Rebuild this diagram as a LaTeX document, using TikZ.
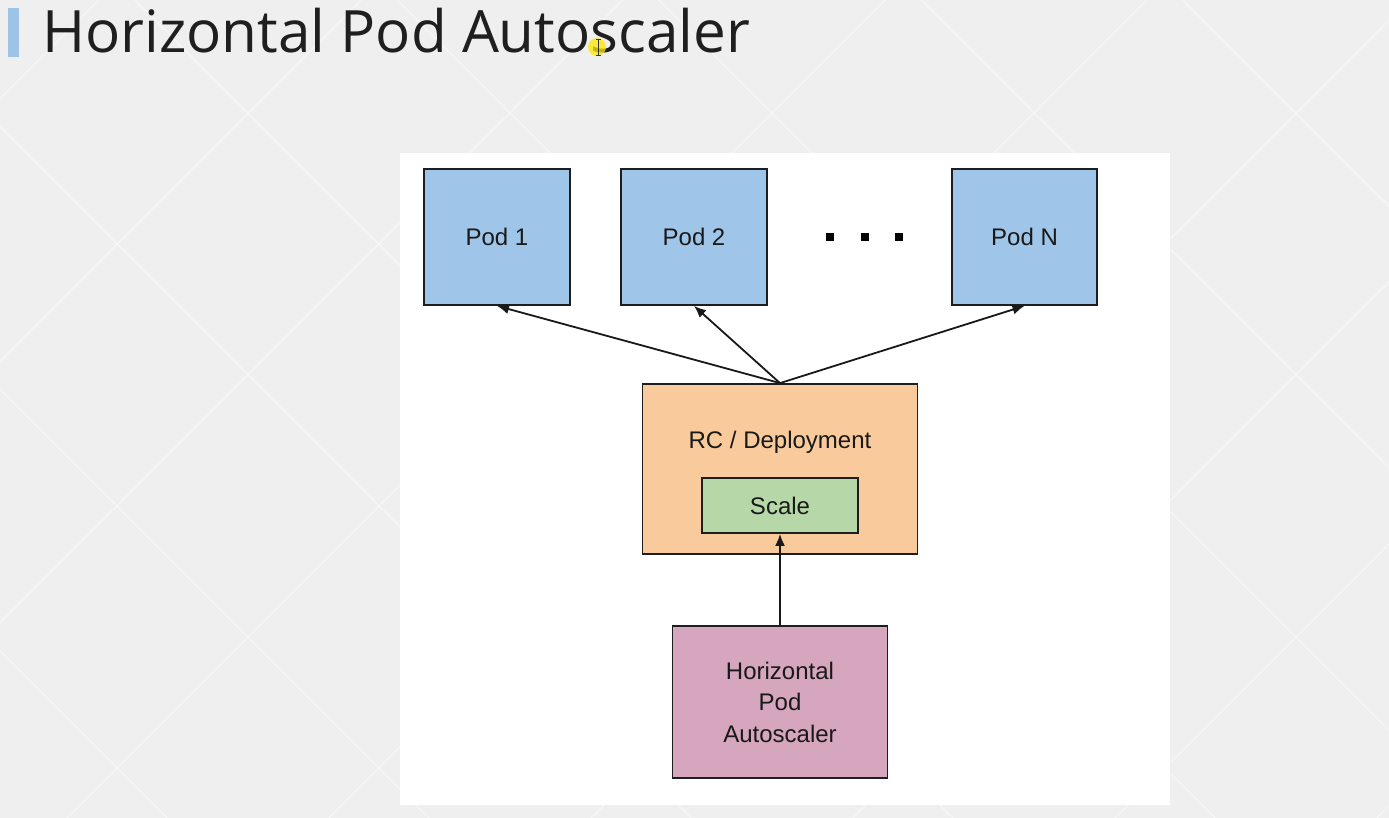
\documentclass[tikz,border=0pt]{standalone}
\usepackage{fontspec}
\setmainfont{Liberation Sans}
\newfontfamily\titlefont{Open Sans}
\usetikzlibrary{arrows.meta}
\definecolor{slidebg}{HTML}{EFEFEF}
\definecolor{barblue}{HTML}{9DC3E6}
\definecolor{podblue}{HTML}{9FC5E8}
\definecolor{rcorange}{HTML}{F9CB9C}
\definecolor{scalegreen}{HTML}{B6D7A8}
\definecolor{hpapink}{HTML}{D5A6BD}
\definecolor{edge}{HTML}{1E1E1E}
\tikzset{
  box/.style={draw=edge, line width=1.8pt, inner sep=0pt, font=\fontsize{24}{31.5}\selectfont, align=center, text=black!90},
  link/.style={draw=black!90, line width=1.8pt, -{Latex[length=12pt,width=10pt]}},
  dotsq/.style={fill=black, minimum size=8pt, inner sep=0pt},
}
\begin{document}
\begin{tikzpicture}[x=1pt, y=-1pt]
  \useasboundingbox (0,0) rectangle (1389,818);
  % slide background with faint diamond tiling
  \fill[slidebg] (0,0) rectangle (1389,818);
  \begin{scope}
    \clip (0,0) rectangle (1389,818);
    \foreach \c in {99,361,623,885,1147,1409,1671,1933,2195}
      \draw[white, line width=1pt, opacity=0.55] (\c,0) -- (\c-818,818);
    \foreach \d in {-651,-389,-127,135,397,659,921,1183}
      \draw[white, line width=1pt, opacity=0.55] (\d,0) -- (\d+818,818);
  \end{scope}
  % title
  \fill[barblue] (8,8) rectangle (19,57);
  \node[anchor=base west, inner sep=0pt, text=black!88] (title) at (42,53)
    {\resizebox{708pt}{!}{\titlefont\fontsize{63}{63}\selectfont Horizontal Pod Autoscaler}};
  % pointer highlight
  \fill[yellow!90!orange, opacity=0.75] (597,47) circle (9);
  \draw[black!80, line width=0.9pt] (598,39) -- (598,55) (595.5,39) -- (600.5,39) (595.5,55) -- (600.5,55);
  % diagram panel
  \fill[white] (400,153) rectangle (1170,805);
  % pods
  \node[box, fill=podblue, minimum width=146pt, minimum height=136pt] (pod1) at (497,237) {Pod 1};
  \node[box, fill=podblue, minimum width=146pt, minimum height=136pt] (pod2) at (694,237) {Pod 2};
  \node[box, fill=podblue, minimum width=145pt, minimum height=136pt] (podn) at (1024.5,237) {Pod N};
  \node[dotsq] (d1) at (830,237) {};
  \node[dotsq] (d2) at (865,237) {};
  \node[dotsq] (d3) at (899,237) {};
  % controller
  \node[box, fill=rcorange, minimum width=275pt, minimum height=170pt] (rc) at (780,469) {};
  \node[font=\fontsize{24}{28}\selectfont, text=black!90] (rclabel) at (780,442) {RC / Deployment};
  \node[box, fill=scalegreen, minimum width=156pt, minimum height=55pt] (scale) at (780,505.5) {Scale};
  % autoscaler
  \node[box, fill=hpapink, minimum width=215pt, minimum height=152pt] (hpa) at (780,702)
    {Horizontal\\Pod\\Autoscaler};
  % connectors
  \coordinate (fan) at (rc.north);
  \draw[link] (fan) -- (pod1.south);
  \draw[link] (fan) -- (pod2.south);
  \draw[link] (fan) -- (podn.south);
  \draw[link] (hpa.north) -- (scale.south);
\end{tikzpicture}
\end{document}
